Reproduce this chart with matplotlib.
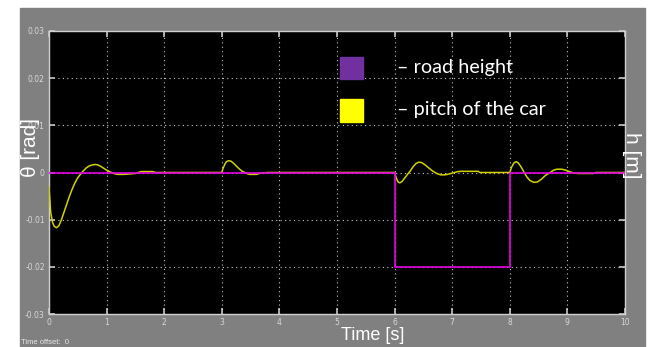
import numpy as np
import matplotlib.pyplot as plt
from matplotlib.patches import Rectangle

# pitch of the car [rad]
t_pitch = [0.00, 0.01, 0.03, 0.06, 0.09, 0.13, 0.17, 0.21, 0.25, 0.30, 0.35, 0.40,
           0.45, 0.50, 0.55, 0.60, 0.65, 0.70, 0.75, 0.80, 0.85, 0.90, 0.95, 1.00,
           1.05, 1.10, 1.15, 1.20, 1.30, 1.40, 1.50, 1.55, 1.60, 1.65, 1.80, 1.85,
           3.00, 3.02, 3.05, 3.08, 3.12, 3.16, 3.20, 3.25, 3.30, 3.35, 3.40, 3.45,
           3.50, 3.60, 3.65, 3.70, 3.80,
           6.00, 6.03, 6.06, 6.09, 6.13, 6.18, 6.23, 6.27, 6.32, 6.37, 6.42, 6.47,
           6.52, 6.58, 6.64, 6.70, 6.75, 6.80, 6.86, 6.92, 6.98, 7.04, 7.10, 7.16,
           7.45, 7.48,
           8.00, 8.03, 8.07, 8.11, 8.15, 8.20, 8.25, 8.30, 8.35, 8.42, 8.48, 8.55,
           8.62, 8.70, 8.76, 8.82, 8.90, 8.97, 9.03, 9.08, 9.12, 9.18, 9.45, 9.50,
           10.0]
pitch = [-0.0030, -0.0050, -0.0085, -0.0105, -0.0114, -0.0117, -0.0113, -0.0102,
         -0.0088, -0.0070, -0.0052, -0.0036, -0.0022, -0.0011, -0.0003, 0.0004,
         0.0010, 0.0014, 0.0016, 0.0017, 0.0016, 0.0013, 0.0009, 0.0005, 0.0002,
         -0.0001, -0.0003, -0.0004, -0.0004, -0.0003, -0.0002, 0.0000, 0.0002,
         0.0002, 0.0002, 0.0000,
         0.0000, 0.0008, 0.0017, 0.0023, 0.0025, 0.0024, 0.0020, 0.0014, 0.0008,
         0.0003, 0.0000, -0.0003, -0.0004, -0.0004, -0.0002, -0.0001, 0.0000,
         0.0000, -0.0012, -0.0020, -0.0022, -0.0019, -0.0011, -0.0003, 0.0003,
         0.0012, 0.0019, 0.0022, 0.0021, 0.0017, 0.0011, 0.0005, 0.0000, -0.0003,
         -0.0005, -0.0005, -0.0004, -0.0002, 0.0000, 0.0002, 0.00025, 0.00025, 0.0000,
         0.0000, 0.0011, 0.0020, 0.0023, 0.0020, 0.0011, 0.0000, -0.0010, -0.0017,
         -0.0021, -0.0020, -0.0014, -0.0006, 0.0000, 0.0005, 0.0007, 0.0007, 0.0005,
         0.0002, 0.0000, -0.0001, -0.0002, -0.0002, 0.0000,
         0.0000]

# road height [m], step down at 6 s and back up at 8 s
t_road = [0, 6, 6, 8, 8, 10]
road = [0, 0, -0.02, -0.02, 0, 0]

xticks = list(range(0, 11))
yticks = [-0.03, -0.02, -0.01, 0, 0.01, 0.02, 0.03]
ylabels = ['-0.03', '-0.02', '-0.01', '0', '0.01', '0.02', '0.03']

W, H = 651, 347
fig = plt.figure(figsize=(W / 100, H / 100), dpi=100, facecolor='white')
# grey scope frame, behind the axes
fig.patches.append(Rectangle((20 / W, 0), 625 / W, (H - 8) / H,
                             transform=fig.transFigure, color='#808080', zorder=-10))

ax = fig.add_axes([49 / W, (H - 314) / H, 576 / W, 283 / H])
ax.set_facecolor('black')
ax.plot(t_pitch, pitch, color='#d2d200', lw=1.1, zorder=3)
ax.plot(t_road, road, color='#e600e6', lw=1.2, zorder=4)

ax.set_xlim(0, 10)
ax.set_ylim(-0.03, 0.03)
ax.set_xticks(xticks)
ax.set_xticklabels([str(v) for v in xticks])
ax.set_yticks(yticks)
ax.set_yticklabels(ylabels)
ax.tick_params(direction='in', length=4.5, width=1.2, color='#c8c8c8',
               labelcolor='#d8d8d8', labelsize=5.5, top=True, right=True, pad=3)
ax.grid(True, color='#c8c8c8', lw=0.8, linestyle=(0, (1, 3)))
for s in ax.spines.values():
    s.set_color('#d0d0d0')
    s.set_linewidth(1)

fig.text(31 / W, 1 - 148 / H, 'θ [rad]', rotation=90, color='white',
         fontsize=15, family='Liberation Sans', ha='center', va='center')
fig.text(632 / W, 1 - 155 / H, 'h [m]', rotation=-90, color='white',
         fontsize=15, family='Liberation Sans', ha='center', va='center')
fig.text(373 / W, 1 - 336 / H, 'Time [s]', color='white',
         fontsize=13, family='Liberation Sans', ha='center', va='center')
fig.text(21 / W, 1 - 342 / H, 'Time offset:  0', color='#e8e8e8',
         fontsize=5.5, family='Liberation Sans', ha='left', va='center')

# legend boxes
fig.patches.append(Rectangle((340 / W, 1 - 79 / H), 23 / W, 22 / H,
                             transform=fig.transFigure, color='#7030a0', zorder=5))
fig.patches.append(Rectangle((340 / W, 1 - 122 / H), 23 / W, 23 / H,
                             transform=fig.transFigure, color='#ffff00', zorder=5))
fig.text(397 / W, 1 - 68 / H, '– road height', color='white', fontsize=14.3,
         family='Lato', ha='left', va='center')
fig.text(397 / W, 1 - 110 / H, '– pitch of the car', color='white', fontsize=14.3,
         family='Lato', ha='left', va='center')

fig.savefig('out.png', dpi=100, facecolor='white')
